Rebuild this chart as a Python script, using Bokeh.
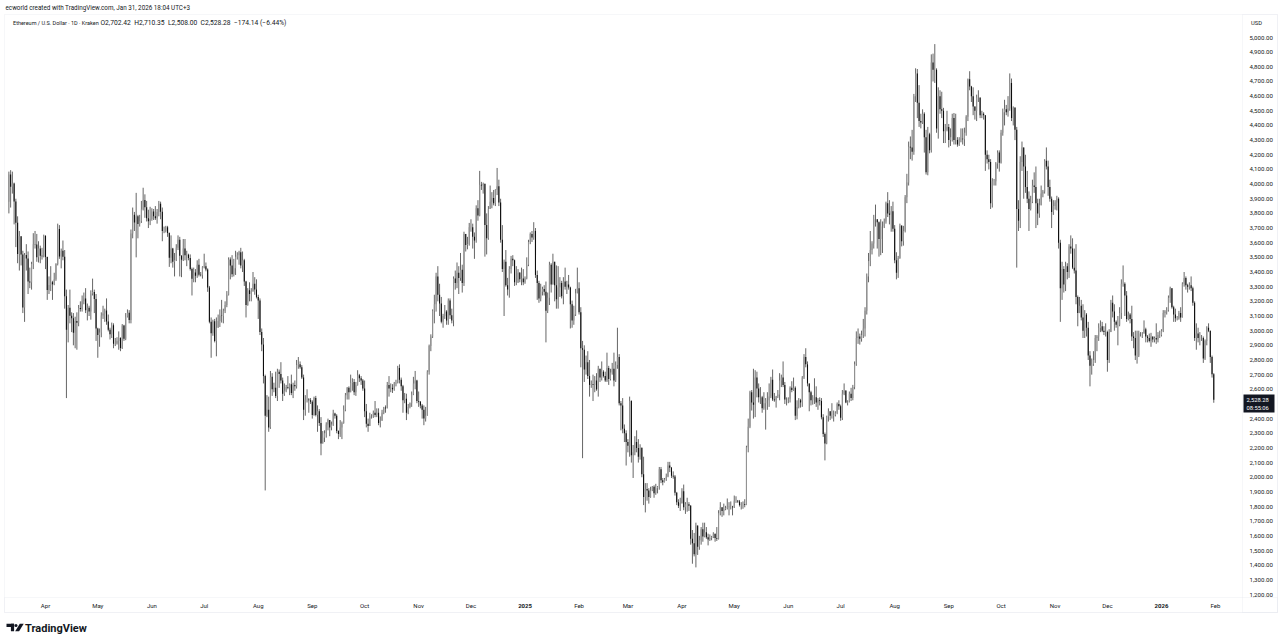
import pandas as pd
from bokeh.plotting import figure
from bokeh.models import ColumnDataSource, Label, Range1d, BoxAnnotation, PolyAnnotation
from bokeh.core.properties import value
from bokeh.embed import file_html
from bokeh.resources import INLINE

# ---------------- data (ETH/USD daily, Kraken) ----------------
start_date = "2024-03-11"
first_open = 3880.0

close_2024 = [
    # Mar 11-31
    4066, 3982, 4004, 3882, 3737, 3523, 3644, 3520, 3158, 3516, 3492, 3336, 3329, 3454, 3590, 3587, 3500, 3561, 3511, 3508, 3647,
    # Apr
    3503, 3278, 3311, 3330, 3317, 3351, 3455, 3694, 3506, 3546, 3505, 3234, 3006, 3157, 3101, 3084, 2985, 3066, 3054, 3155, 3147, 3200, 3219, 3140, 3156, 3131, 3254, 3263, 3216, 3014,
    # May
    2970, 2988, 3103, 3117, 3137, 3063, 3007, 2975, 3037, 2910, 2912, 2930, 2950, 2882, 3036, 2945, 3095, 3122, 3073, 3663, 3790, 3738, 3781, 3727, 3746, 3826, 3892, 3842, 3767, 3747, 3761,
    # Jun
    3813, 3780, 3767, 3810, 3865, 3812, 3680, 3680, 3706, 3667, 3498, 3560, 3470, 3480, 3565, 3620, 3511, 3483, 3560, 3515, 3518, 3496, 3420, 3354, 3396, 3374, 3450, 3381, 3378, 3432,
    # Jul
    3440, 3418, 3295, 3060, 2982, 3065, 2930, 3020, 3066, 3102, 3100, 3135, 3175, 3245, 3485, 3445, 3385, 3425, 3505, 3515, 3535, 3445, 3480, 3335, 3175, 3275, 3250, 3270, 3320, 3280, 3230,
    # Aug
    3205, 2990, 2905, 2690, 2420, 2460, 2340, 2685, 2600, 2610, 2555, 2720, 2705, 2660, 2570, 2590, 2615, 2610, 2635, 2575, 2630, 2620, 2765, 2770, 2750, 2680, 2460, 2530, 2530, 2525, 2515,
    # Sep
    2425, 2540, 2425, 2450, 2370, 2230, 2270, 2300, 2360, 2390, 2340, 2360, 2435, 2420, 2315, 2295, 2340, 2370, 2460, 2560, 2610, 2580, 2645, 2650, 2580, 2630, 2695, 2675, 2660, 2605,
    # Oct
    2450, 2365, 2350, 2415, 2415, 2440, 2425, 2440, 2370, 2385, 2440, 2475, 2470, 2630, 2605, 2610, 2600, 2640, 2645, 2745, 2665, 2620, 2525, 2535, 2440, 2480, 2505, 2565, 2640, 2660, 2520,
    # Nov
    2515, 2490, 2460, 2400, 2420, 2720, 2895, 2960, 3135, 3180, 3370, 3245, 3185, 3060, 3100, 3130, 3070, 3205, 3105, 3070, 3355, 3325, 3395, 3360, 3415, 3325, 3660, 3585, 3590, 3705,
    # Dec
    3705, 3640, 3615, 3835, 3785, 3995, 3990, 4000, 3720, 3630, 3830, 3880, 3905, 3870, 3960, 3985, 3875, 3620, 3420, 3470, 3310, 3280, 3420, 3490, 3480, 3330, 3330, 3395, 3350, 3355, 3330,
]
high_2024 = [
    4085, 4095, 4085, 4010, 3900, 3780, 3680, 3610, 3545, 3530, 3590, 3540, 3430, 3470, 3665, 3680, 3660, 3610, 3580, 3565, 3655,
    3650, 3505, 3370, 3440, 3340, 3395, 3460, 3730, 3720, 3560, 3615, 3550, 3280, 3175, 3280, 3125, 3120, 3095, 3125, 3175, 3200, 3240, 3260, 3290, 3185, 3170, 3275, 3355, 3280, 3250,
    3020, 3015, 3125, 3170, 3150, 3220, 3110, 3020, 3055, 3050, 2950, 2955, 2995, 2955, 3045, 3040, 3120, 3145, 3140, 3690, 3840, 3810, 3940, 3790, 3790, 3885, 3975, 3930, 3885, 3825, 3845,
    3835, 3830, 3850, 3830, 3885, 3880, 3840, 3710, 3715, 3715, 3670, 3650, 3565, 3530, 3590, 3650, 3640, 3515, 3625, 3625, 3545, 3525, 3520, 3430, 3430, 3420, 3480, 3490, 3400, 3440,
    3525, 3465, 3425, 3305, 3090, 3075, 3080, 3090, 3110, 3145, 3210, 3150, 3200, 3270, 3500, 3500, 3515, 3490, 3545, 3535, 3545, 3565, 3540, 3490, 3340, 3290, 3330, 3290, 3400, 3365, 3350,
    3245, 3220, 3015, 2950, 2700, 2560, 2550, 2725, 2710, 2645, 2720, 2740, 2735, 2785, 2680, 2640, 2630, 2690, 2640, 2700, 2645, 2660, 2800, 2820, 2790, 2765, 2700, 2560, 2600, 2540, 2540,
    2525, 2550, 2555, 2490, 2465, 2410, 2315, 2320, 2375, 2400, 2390, 2380, 2460, 2440, 2430, 2320, 2390, 2380, 2490, 2575, 2615, 2620, 2700, 2675, 2670, 2650, 2730, 2705, 2690, 2670,
    2660, 2500, 2400, 2440, 2430, 2455, 2520, 2470, 2470, 2415, 2460, 2480, 2490, 2650, 2690, 2640, 2635, 2650, 2665, 2760, 2770, 2680, 2630, 2575, 2570, 2500, 2510, 2585, 2685, 2725, 2665,
    2585, 2520, 2500, 2490, 2480, 2730, 2905, 2975, 3145, 3245, 3395, 3440, 3320, 3230, 3115, 3175, 3140, 3220, 3220, 3150, 3370, 3410, 3465, 3440, 3530, 3450, 3675, 3650, 3640, 3735,
    3760, 3730, 3670, 3855, 3890, 4090, 4015, 4010, 4005, 3800, 3850, 3990, 3945, 3960, 3965, 4110, 4030, 3900, 3720, 3485, 3550, 3360, 3440, 3510, 3515, 3485, 3440, 3420, 3400, 3430, 3420,
]
low_2024 = [
    3800, 3840, 3935, 3725, 3570, 3460, 3410, 3445, 3120, 3060, 3410, 3250, 3290, 3280, 3420, 3560, 3470, 3465, 3460, 3485, 3500,
    3420, 3210, 3250, 3270, 3210, 3310, 3340, 3445, 3490, 3425, 3480, 3150, 2540, 2920, 3050, 2990, 2900, 2880, 2870, 3030, 3130, 3130, 3180, 3120, 3070, 3100, 3075, 3240, 3120, 2930,
    2815, 2890, 2955, 3080, 3060, 3040, 2995, 2940, 2950, 2880, 2895, 2905, 2870, 2860, 2875, 2930, 2935, 3090, 3050, 3050, 3630, 3680, 3500, 3630, 3710, 3735, 3820, 3770, 3745, 3700, 3720,
    3750, 3755, 3755, 3730, 3780, 3760, 3610, 3665, 3670, 3640, 3435, 3460, 3430, 3370, 3475, 3550, 3370, 3365, 3475, 3480, 3440, 3480, 3410, 3240, 3330, 3330, 3360, 3370, 3370, 3355,
    3425, 3405, 3265, 3050, 2815, 2965, 2920, 2825, 3020, 3025, 3055, 3050, 3120, 3160, 3240, 3350, 3365, 3370, 3380, 3485, 3450, 3425, 3400, 3305, 3090, 3170, 3200, 3200, 3265, 3245, 3220,
    3080, 2970, 2860, 2640, 1910, 2410, 2310, 2330, 2555, 2580, 2540, 2520, 2610, 2640, 2520, 2555, 2580, 2600, 2560, 2560, 2540, 2590, 2605, 2740, 2740, 2670, 2390, 2420, 2510, 2440, 2500,
    2400, 2420, 2415, 2310, 2350, 2150, 2250, 2240, 2270, 2320, 2280, 2320, 2350, 2400, 2300, 2260, 2275, 2260, 2365, 2450, 2530, 2530, 2580, 2590, 2560, 2555, 2625, 2650, 2630, 2590,
    2410, 2340, 2310, 2350, 2400, 2405, 2410, 2410, 2355, 2340, 2385, 2430, 2440, 2470, 2550, 2580, 2575, 2590, 2620, 2640, 2640, 2590, 2440, 2505, 2390, 2430, 2470, 2480, 2560, 2600, 2505,
    2480, 2470, 2400, 2355, 2380, 2420, 2700, 2860, 2950, 3050, 3130, 3200, 3100, 3050, 3020, 3080, 3040, 3040, 3080, 3050, 3030, 3280, 3290, 3250, 3340, 3260, 3305, 3540, 3555, 3580,
    3675, 3560, 3490, 3600, 3750, 3780, 3960, 3935, 3505, 3520, 3620, 3830, 3835, 3855, 3850, 3925, 3850, 3600, 3400, 3100, 3300, 3240, 3225, 3390, 3440, 3305, 3310, 3325, 3330, 3310, 3310,
]

close_2025 = [
    # Jan
    3355, 3450, 3605, 3660, 3635, 3680, 3380, 3325, 3220, 3265, 3285, 3265, 3135, 3225, 3450, 3315, 3470, 3310, 3215, 3295, 3325, 3235, 3335, 3300, 3315, 3295, 3180, 3070, 3110, 3255, 3290,
    # Feb
    3125, 2880, 2870, 2735, 2785, 2690, 2630, 2635, 2630, 2660, 2600, 2740, 2680, 2720, 2690, 2660, 2745, 2670, 2715, 2740, 2660, 2765, 2820, 2505, 2490, 2330, 2300, 2240,
    # Mar
    2215, 2520, 2150, 2170, 2240, 2200, 2140, 2200, 2020, 1865, 1920, 1910, 1865, 1910, 1935, 1890, 1925, 1935, 2055, 1980, 1965, 1985, 2005, 2080, 2065, 2010, 2005, 1895, 1830, 1805, 1825,
    # Apr
    1905, 1795, 1815, 1815, 1805, 1580, 1550, 1475, 1670, 1525, 1570, 1645, 1595, 1625, 1590, 1575, 1585, 1590, 1615, 1585, 1580, 1755, 1795, 1770, 1785, 1790, 1795, 1800, 1800, 1795,
    # May
    1840, 1840, 1835, 1810, 1815, 1815, 1810, 2205, 2345, 2580, 2510, 2495, 2680, 2605, 2545, 2545, 2470, 2505, 2525, 2525, 2550, 2665, 2530, 2525, 2550, 2565, 2660, 2680, 2630, 2530, 2530,
    # Jun
    2535, 2610, 2595, 2610, 2420, 2480, 2525, 2510, 2680, 2820, 2770, 2640, 2580, 2525, 2545, 2545, 2510, 2525, 2520, 2410, 2295, 2230, 2415, 2450, 2420, 2420, 2425, 2440, 2500, 2485,
    # Jul
    2405, 2570, 2590, 2510, 2515, 2570, 2540, 2615, 2770, 2950, 2960, 2945, 2970, 3015, 3135, 3370, 3475, 3550, 3595, 3760, 3760, 3740, 3625, 3710, 3710, 3745, 3870, 3800, 3790, 3815, 3695,
    # Aug
    3480, 3395, 3495, 3715, 3610, 3680, 3910, 4010, 4255, 4250, 4220, 4600, 4755, 4555, 4430, 4420, 4480, 4320, 4080, 4340, 4230, 4830, 4780, 4780, 4380, 4600, 4510, 4500, 4360, 4370, 4390,
    # Sep
    4300, 4320, 4450, 4300, 4300, 4270, 4305, 4310, 4305, 4350, 4460, 4715, 4665, 4600, 4530, 4500, 4590, 4590, 4470, 4480, 4470, 4200, 4170, 4150, 3870, 4020, 4020, 4140, 4215, 4145,
    # Oct
    4350, 4490, 4510, 4490, 4515, 4690, 4450, 4520, 4370, 3830, 3750, 4150, 4250, 4120, 3980, 3900, 3830, 3880, 3990, 3980, 3870, 3800, 3855, 3935, 3950, 4160, 4120, 3980, 3900, 3810, 3850,
    # Nov
    3875, 3900, 3600, 3290, 3420, 3315, 3440, 3400, 3575, 3560, 3430, 3410, 3230, 3120, 3170, 3090, 3000, 3110, 3020, 2830, 2760, 2770, 2800, 2950, 2960, 3020, 3030, 3000, 2990, 2990,
    # Dec
    2800, 2990, 3190, 3130, 3060, 3040, 3040, 3120, 3320, 3320, 3240, 3080, 3110, 3080, 2960, 2950, 2830, 2830, 2980, 2980, 2980, 3010, 2960, 2950, 2930, 2960, 2940, 2950, 2940, 2970, 2970,
]
high_2025 = [
    3370, 3500, 3620, 3670, 3680, 3740, 3700, 3410, 3340, 3320, 3300, 3310, 3335, 3260, 3470, 3460, 3525, 3450, 3445, 3440, 3365, 3340, 3365, 3430, 3340, 3380, 3300, 3205, 3170, 3285, 3430,
    3330, 3160, 2930, 2900, 2830, 2860, 2800, 2660, 2700, 2690, 2710, 2760, 2740, 2790, 2730, 2720, 2850, 2760, 2740, 2780, 2850, 2790, 3020, 2840, 2520, 2540, 2360, 2320,
    2260, 2550, 2525, 2220, 2280, 2320, 2260, 2225, 2205, 2140, 1960, 1960, 1925, 1935, 1940, 1945, 1955, 1940, 2070, 2070, 1995, 1995, 2025, 2105, 2105, 2070, 2040, 2015, 1900, 1850, 1860,
    1925, 1950, 1830, 1860, 1830, 1810, 1640, 1620, 1690, 1670, 1600, 1660, 1690, 1690, 1660, 1615, 1610, 1600, 1625, 1615, 1660, 1775, 1830, 1795, 1820, 1805, 1855, 1830, 1835, 1805,
    1875, 1870, 1845, 1845, 1830, 1835, 1850, 2215, 2400, 2590, 2595, 2740, 2730, 2720, 2640, 2615, 2555, 2580, 2540, 2580, 2640, 2685, 2735, 2575, 2555, 2595, 2710, 2700, 2790, 2650, 2545,
    2545, 2620, 2655, 2680, 2620, 2525, 2540, 2535, 2690, 2840, 2880, 2790, 2630, 2590, 2560, 2675, 2620, 2540, 2545, 2540, 2430, 2305, 2420, 2470, 2450, 2505, 2455, 2450, 2510, 2525,
    2495, 2595, 2640, 2595, 2525, 2585, 2610, 2630, 2790, 2995, 3015, 2980, 3000, 3080, 3160, 3390, 3530, 3680, 3610, 3790, 3860, 3760, 3745, 3760, 3745, 3765, 3880, 3945, 3890, 3850, 3880,
    3720, 3535, 3510, 3730, 3720, 3715, 3925, 4070, 4290, 4325, 4370, 4615, 4790, 4785, 4675, 4480, 4510, 4490, 4370, 4390, 4350, 4885, 4890, 4955, 4790, 4660, 4640, 4630, 4520, 4410, 4500,
    4410, 4380, 4480, 4485, 4480, 4320, 4320, 4380, 4380, 4385, 4470, 4720, 4770, 4670, 4660, 4530, 4610, 4640, 4590, 4500, 4490, 4460, 4230, 4200, 4170, 4040, 4035, 4150, 4230, 4230,
    4370, 4515, 4575, 4540, 4600, 4755, 4720, 4530, 4525, 4390, 3890, 4190, 4290, 4250, 4200, 4090, 3950, 3920, 4030, 4080, 4120, 3900, 3900, 3990, 3960, 4170, 4250, 4160, 4030, 3915, 3890,
    3890, 3920, 3910, 3620, 3470, 3440, 3470, 3460, 3590, 3650, 3630, 3560, 3590, 3240, 3230, 3210, 3180, 3140, 3120, 3060, 2860, 2810, 2860, 2970, 2970, 3050, 3070, 3060, 3030, 3050,
    3000, 3010, 3210, 3240, 3180, 3070, 3100, 3160, 3350, 3445, 3330, 3270, 3130, 3120, 3170, 2990, 3000, 3000, 3000, 2990, 2990, 3070, 3020, 2970, 2980, 2985, 2960, 2960, 3050, 2990, 3000,
]
low_2025 = [
    3320, 3350, 3440, 3590, 3605, 3620, 3360, 3210, 3190, 3200, 3240, 3240, 2920, 3120, 3175, 3260, 3320, 3200, 3150, 3150, 3230, 3220, 3180, 3280, 3250, 3280, 3015, 3020, 3040, 3100, 3255,
    3110, 2750, 2130, 2650, 2700, 2670, 2550, 2610, 2520, 2580, 2590, 2550, 2650, 2660, 2680, 2650, 2650, 2630, 2660, 2700, 2620, 2650, 2740, 2490, 2320, 2300, 2240, 2080,
    2170, 2140, 2100, 1995, 2150, 2170, 2100, 2120, 2000, 1810, 1760, 1840, 1820, 1860, 1905, 1860, 1880, 1890, 1915, 1960, 1945, 1965, 1975, 2000, 2035, 1995, 1990, 1875, 1810, 1790, 1770,
    1820, 1775, 1750, 1765, 1770, 1540, 1410, 1460, 1385, 1470, 1505, 1540, 1560, 1590, 1580, 1535, 1565, 1570, 1585, 1560, 1565, 1575, 1740, 1730, 1740, 1775, 1780, 1740, 1780, 1740,
    1790, 1825, 1825, 1800, 1780, 1785, 1795, 1810, 2170, 2335, 2455, 2400, 2410, 2545, 2510, 2500, 2440, 2460, 2325, 2460, 2480, 2540, 2520, 2515, 2475, 2540, 2525, 2615, 2615, 2500, 2490,
    2505, 2510, 2580, 2590, 2390, 2395, 2470, 2475, 2480, 2670, 2750, 2620, 2450, 2490, 2495, 2500, 2480, 2460, 2490, 2395, 2275, 2115, 2225, 2380, 2390, 2400, 2380, 2415, 2430, 2460,
    2385, 2390, 2560, 2505, 2490, 2510, 2520, 2525, 2600, 2760, 2910, 2905, 2925, 2950, 2960, 3110, 3330, 3440, 3520, 3560, 3710, 3560, 3505, 3515, 3530, 3700, 3730, 3775, 3725, 3675, 3675,
    3460, 3350, 3360, 3490, 3575, 3580, 3670, 3870, 3990, 4170, 4160, 4200, 4560, 4450, 4390, 4380, 4410, 4215, 4065, 4060, 4210, 4215, 4700, 4690, 4350, 4310, 4480, 4450, 4280, 4280, 4360,
    4250, 4260, 4290, 4270, 4270, 4255, 4260, 4285, 4270, 4260, 4330, 4430, 4640, 4560, 4470, 4440, 4430, 4560, 4450, 4450, 4440, 4090, 4140, 4100, 3830, 3840, 3990, 3990, 4105, 4085,
    4140, 4330, 4400, 4470, 4460, 4500, 4430, 4400, 4300, 3430, 3680, 3700, 4090, 3900, 3940, 3870, 3680, 3820, 3870, 3940, 3700, 3720, 3770, 3855, 3910, 3935, 4100, 3920, 3880, 3700, 3790,
    3825, 3820, 3560, 3060, 3210, 3260, 3270, 3350, 3360, 3525, 3420, 3390, 3180, 3030, 3150, 3070, 2950, 2950, 2960, 2800, 2620, 2700, 2760, 2780, 2860, 2930, 2990, 2990, 2970, 2960,
    2720, 2780, 2990, 3090, 3000, 3020, 2900, 3030, 3080, 3300, 3100, 3060, 3070, 3050, 2930, 2880, 2800, 2775, 2820, 2960, 2950, 2980, 2920, 2920, 2920, 2890, 2920, 2920, 2910, 2920, 2950,
]

close_2026 = [3000, 3120, 3130, 3140, 3225, 3290, 3160, 3110, 3085, 3085, 3120, 3090, 3320, 3360, 3310, 3300,
              3310, 3290, 3190, 2950, 2980, 2950, 2950, 2950, 2810, 2930, 3020, 3000, 2820, 2702.42, 2528.28]
high_2026 = [3010, 3140, 3140, 3160, 3240, 3300, 3290, 3170, 3150, 3100, 3135, 3160, 3330, 3400, 3370, 3320,
             3330, 3370, 3300, 3200, 3050, 3020, 2990, 2970, 2960, 2940, 3030, 3050, 3000, 2830, 2710.35]
low_2026 = [2960, 2990, 3090, 3110, 3130, 3190, 3150, 3060, 3060, 3070, 3075, 3060, 3090, 3300, 3280, 3260,
            3280, 3270, 3170, 2930, 2870, 2920, 2900, 2930, 2780, 2800, 2900, 2990, 2780, 2680, 2508.00]

month_labels = ["Apr", "May", "Jun", "Jul", "Aug", "Sep", "Oct", "Nov", "Dec", "2025", "Feb", "Mar",
                "Apr", "May", "Jun", "Jul", "Aug", "Sep", "Oct", "Nov", "Dec", "2026", "Feb"]
month_starts = ["2024-04-01", "2024-05-01", "2024-06-01", "2024-07-01", "2024-08-01", "2024-09-01",
                "2024-10-01", "2024-11-01", "2024-12-01", "2025-01-01", "2025-02-01", "2025-03-01",
                "2025-04-01", "2025-05-01", "2025-06-01", "2025-07-01", "2025-08-01", "2025-09-01",
                "2025-10-01", "2025-11-01", "2025-12-01", "2026-01-01", "2026-02-01"]
price_ticks = [1200, 1300, 1400, 1500, 1600, 1700, 1800, 1900, 2000, 2100, 2200, 2300, 2400,
               2600, 2700, 2800, 2900, 3000, 3100, 3200, 3300, 3400, 3500, 3600, 3700, 3800, 3900,
               4000, 4100, 4200, 4300, 4400, 4500, 4600, 4700, 4800, 4900, 5000]

header_text = "ecworld created with TradingView.com, Jan 31, 2026 18:04 UTC+3"
legend_title = "Ethereum / U.S. Dollar \u00b7 1D \u00b7 Kraken"
legend_values = ("O2,702.42\u2002H2,710.35\u2002L2,508.00\u2002C2,528.28\u2002"
                 "\u2212174.14 (\u22126.44%)")
last_price = 2528.28
last_price_label = "2,528.28"
countdown_label = "08:55:06"

# ---------------- build candles ----------------
closes = close_2024 + close_2025 + close_2026
highs = high_2024 + high_2025 + high_2026
lows = low_2024 + low_2025 + low_2026
n = min(len(closes), len(highs), len(lows))
closes, highs, lows = closes[:n], highs[:n], lows[:n]
opens = [first_open] + closes[:-1]
dates = pd.date_range(start_date, periods=n, freq="D")
xs = [float(v) for v in (dates.asi8 // 10**6)]
tops = [max(o, c) for o, c in zip(opens, closes)]
bots = [min(o, c) for o, c in zip(opens, closes)]
his = [max(h, t) for h, t in zip(highs, tops)]
los = [min(l, b) for l, b in zip(lows, bots)]
up = [c >= o for o, c in zip(opens, closes)]


def subset(mask):
    idx = [i for i in range(n) if mask[i]]
    return ColumnDataSource(dict(x=[xs[i] for i in idx], top=[tops[i] for i in idx],
                                 bottom=[bots[i] for i in idx], high=[his[i] for i in idx],
                                 low=[los[i] for i in idx]))


src_up = subset(up)
src_dn = subset([not u for u in up])

# ---------------- page geometry ----------------
W, H = 1278, 641
DAY = 86400000.0
PX_PER_DAY = 1.7437                     # px per daily bar
ref_ms = float(pd.Timestamp("2024-04-01").value // 10**6)
REF_X = 45.0                            # page x of the 2024-04-01 bar
PX_PER_USD = (594.0 - 37.0) / 3800.0    # 5,000 at y=37, 1,200 at y=594


def X(px):
    return ref_ms + (px - REF_X) / PX_PER_DAY * DAY


def Y(py):
    return 5000.0 - (py - 37.0) / PX_PER_USD


FONT = "Roboto"
TXT = "#131722"
GRID = "#e0e3eb"

p = figure(frame_width=W, frame_height=H, output_backend="svg", toolbar_location=None,
           x_axis_type=None, y_axis_type=None,
           x_range=Range1d(X(0), X(W)), y_range=Range1d(Y(H), Y(0)),
           min_border=0)
p.xgrid.grid_line_color = None
p.ygrid.grid_line_color = None
p.outline_line_color = None
p.background_fill_color = "white"
p.border_fill_color = "white"

# chart frame lines
for l_, r_, t_, b_ in ((4, 1277, 14, 612), (1242, 1277, 14, 612), (4, 1277, 597, 612)):
    p.add_layout(BoxAnnotation(left=X(l_), right=X(r_), top=Y(t_), bottom=Y(b_),
                               fill_alpha=0, line_color=GRID, line_width=1))

# candles
w = 0.62 * DAY
for src, fill in ((src_up, "#939393"), (src_dn, "#0d0d0d")):
    p.segment(x0="x", y0="low", x1="x", y1="high", source=src, line_color="#555555", line_width=0.9)
    p.vbar(x="x", width=w, top="top", bottom="bottom", source=src, fill_color=fill, line_color=None)

# price scale labels
p.text(x=[X(1249)] * len(price_ticks), y=price_ticks,
       text=["{:,.2f}".format(v) for v in price_ticks],
       text_align="left", text_baseline="middle", text_font=value(FONT),
       text_font_size=value("6.1px"), text_color=TXT)
p.add_layout(Label(x=X(1256), y=Y(22), text="USD", text_align="center", text_baseline="middle",
                   text_font=FONT, text_font_size="5.8px", text_color=TXT))

# time scale labels
month_ms = [float(pd.Timestamp(d).value // 10**6) for d in month_starts]
is_year = [lab.isdigit() for lab in month_labels]
p.text(x=[m for m, yflag in zip(month_ms, is_year) if not yflag],
       y=[Y(605)] * (len(month_ms) - sum(is_year)),
       text=[lab for lab, yflag in zip(month_labels, is_year) if not yflag],
       text_align="center", text_baseline="middle", text_font=value(FONT),
       text_font_size=value("6px"), text_color=TXT)
p.text(x=[m for m, yflag in zip(month_ms, is_year) if yflag],
       y=[Y(605)] * sum(is_year),
       text=[lab for lab, yflag in zip(month_labels, is_year) if yflag],
       text_align="center", text_baseline="middle", text_font=value(FONT),
       text_font_size=value("6px"), text_font_style="bold", text_color=TXT)

# header and legend
p.add_layout(Label(x=X(5), y=Y(7.5), text=header_text, text_baseline="middle",
                   text_font=FONT, text_font_size="6.3px", text_color=TXT))
p.add_layout(Label(x=X(12.5), y=Y(22.3), text=legend_title, text_baseline="middle",
                   text_font=FONT, text_font_size="5.5px", text_color=TXT))
p.add_layout(Label(x=X(100), y=Y(22.3), text=legend_values, text_baseline="middle",
                   text_font=FONT, text_font_size="6.7px", text_color=TXT))

# last price tag
p.add_layout(BoxAnnotation(left=X(1243), right=X(1274), top=Y(394), bottom=Y(412),
                           fill_color=TXT, fill_alpha=1, line_color=None))
p.add_layout(Label(x=X(1246), y=last_price, text=last_price_label, text_baseline="middle",
                   text_font=FONT, text_font_size="5.8px", text_color="white"))
p.add_layout(Label(x=X(1246), y=Y(407.5), text=countdown_label, text_baseline="middle",
                   text_font=FONT, text_font_size="5.8px", text_color="white"))

# TradingView logo
LOGO = "#131722"
p.add_layout(BoxAnnotation(left=X(6), right=X(13.6), top=Y(623.3), bottom=Y(626.4),
                           fill_color=LOGO, fill_alpha=1, line_color=None))
p.add_layout(BoxAnnotation(left=X(10.4), right=X(13.6), top=Y(623.3), bottom=Y(630.8),
                           fill_color=LOGO, fill_alpha=1, line_color=None))
p.add_layout(BoxAnnotation(left=X(14.0), right=X(17.0), top=Y(623.4), bottom=Y(626.4),
                           fill_color=LOGO, fill_alpha=1, line_color=None, border_radius=2))
p.add_layout(PolyAnnotation(xs=[X(19.3), X(23.2), X(18.6), X(14.7)],
                            ys=[Y(623.3), Y(623.3), Y(630.8), Y(630.8)],
                            fill_color=LOGO, fill_alpha=1, line_color=None))
p.add_layout(Label(x=X(24.5), y=Y(627.6), text="TradingView", text_baseline="middle",
                   text_font=FONT, text_font_size="11px", text_font_style="bold",
                   text_color=LOGO))

open("out.html", "w").write(file_html(p, INLINE))
